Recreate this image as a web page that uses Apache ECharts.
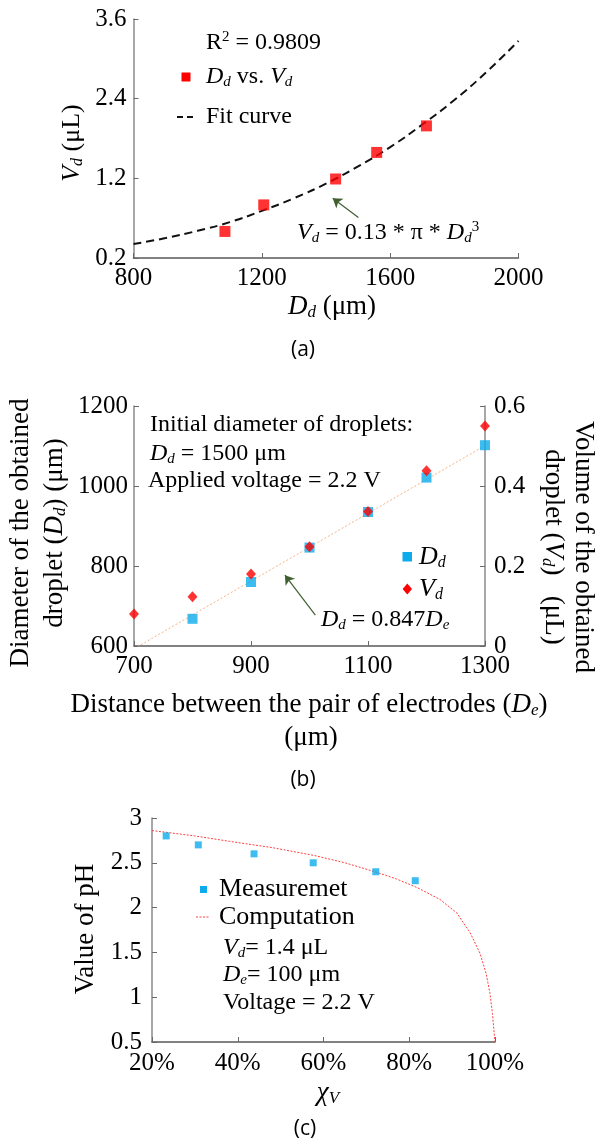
<!DOCTYPE html>
<html>
<head>
<meta charset="utf-8">
<script src="https://cdn.jsdelivr.net/npm/echarts@6/dist/echarts.min.js"></script>
<style>
html,body{margin:0;padding:0;background:#fff;}
#chart{width:598px;height:1141px;}
</style>
</head>
<body>
<div id="chart"></div>
<script>
// ---------- Panel (a) data ----------
const aDd = [1085, 1206, 1430, 1558, 1713];
const aVd = [0.40, 0.80, 1.19, 1.59, 1.99];
const aFitD = [800, 900, 1000, 1100, 1200, 1300, 1400, 1500, 1600, 1700, 1800, 1900, 2000];
const aFitV = [0.21, 0.30, 0.41, 0.54, 0.71, 0.90, 1.12, 1.38, 1.67, 2.01, 2.38, 2.80, 3.27];
const aYTickLabels = ['0.2', '1.2', '2.4', '3.6'];
const aArrow = [[1501, 0.61], [1421, 0.90]];

// ---------- Panel (b) data ----------
const bDeD = [800, 900, 1000, 1100, 1200, 1300];
const bDd = [668, 760, 846, 935, 1021, 1102];
const bDeV = [700, 800, 900, 1000, 1100, 1200, 1300];
const bVd = [0.080, 0.123, 0.180, 0.248, 0.336, 0.438, 0.550];
const bFitDe = [700, 1300];
const bFitDd = [593, 1101];
const bArrow = [[1010, 677], [958, 777]];

// ---------- Panel (c) data ----------
const cChi = [23.3, 30.8, 43.8, 57.6, 72.2, 81.4];
const cPH = [2.8, 2.7, 2.6, 2.5, 2.4, 2.3];
const cCompChi = [20, 30, 38, 48, 58, 65, 72, 77, 82, 87.2, 91.1, 94.2, 96.5, 97.9, 98.8, 99.4, 99.8, 100];
const cCompPH = [2.86, 2.80, 2.74, 2.67, 2.58, 2.50, 2.40, 2.32, 2.22, 2.09, 1.94, 1.72, 1.49, 1.27, 1.05, 0.82, 0.60, 0.50];

const zip = (xs, ys) => xs.map((x, i) => [x, ys[i]]);

const SERIF = 'Liberation Serif';
const FS = 24;
const TS = 27;
const rich = {
  n: {fontFamily: SERIF, fontSize: FS, color: '#000'},
  i: {fontFamily: SERIF, fontSize: FS, fontStyle: 'italic', color: '#000'},
  s: {fontFamily: SERIF, fontSize: 15, fontStyle: 'italic', color: '#000', padding: [11, 0, 0, 0]},
  su: {fontFamily: SERIF, fontSize: 15, color: '#000', padding: [0, 0, 12, 0]},
  N: {fontFamily: SERIF, fontSize: TS, color: '#000'},
  I: {fontFamily: SERIF, fontSize: TS, fontStyle: 'italic', color: '#000'},
  S: {fontFamily: SERIF, fontSize: 17, fontStyle: 'italic', color: '#000', padding: [12, 0, 0, 0]},
  L: {fontFamily: SERIF, fontSize: 26, color: '#000'},
  LI: {fontFamily: SERIF, fontSize: 26, fontStyle: 'italic', color: '#000'},
  LS: {fontFamily: SERIF, fontSize: 16, fontStyle: 'italic', color: '#000', padding: [12, 0, 0, 0]}
};

function txt(text, x, y, align, rot) {
  return {
    type: 'text', x: x, y: y, rotation: rot || 0, silent: true,
    style: {text: text, rich: rich, align: align || 'left', verticalAlign: 'middle',
            fontFamily: SERIF, fontSize: FS, fill: '#000'}
  };
}
function plain(text, x, y) {
  return {type: 'text', x: x, y: y, silent: true,
    style: {text: text, align: 'center', verticalAlign: 'middle', fontFamily: 'Open Sans', fontSize: 21, fill: '#000'}};
}

const axisLineL = {show: true, lineStyle: {color: '#8a8a8a', width: 1.5}};
const axisLineB = {show: true, lineStyle: {color: '#5a5a5a', width: 1.5}};
const tick = {show: true, inside: true, length: 5, lineStyle: {color: '#6a6a6a'}};
const tickRich = {t: {fontFamily: SERIF, fontSize: 25, color: '#000'}};
const lab = (m, fmt) => ({
  margin: m, fontFamily: SERIF, fontSize: 25, color: '#000', rich: tickRich,
  formatter: v => '{t|' + (fmt ? fmt(v) : String(v)) + '}'
});

const BLUE = '#0dabeb';

const option = {
  backgroundColor: '#fff',
  animation: false,
  textStyle: {fontFamily: SERIF},
  grid: [
    {left: 133.5, top: 19, width: 385, height: 239},
    {left: 134, top: 406, width: 351, height: 240},
    {left: 152, top: 818, width: 343, height: 224}
  ],
  xAxis: [
    {gridIndex: 0, type: 'value', min: 800, max: 2000, interval: 400,
     axisLine: axisLineB, axisTick: tick, splitLine: {show: false}, axisLabel: lab(8)},
    {gridIndex: 1, type: 'value', min: 700, max: 1300, interval: 200,
     axisLine: axisLineB, axisTick: tick, splitLine: {show: false}, axisLabel: lab(8)},
    {gridIndex: 2, type: 'value', min: 20, max: 100, interval: 20,
     axisLine: axisLineB, axisTick: tick, splitLine: {show: false},
     axisLabel: lab(9, v => v + '%')}
  ],
  yAxis: [
    {gridIndex: 0, type: 'value', min: 0, max: 3.6, interval: 1.2,
     axisLine: axisLineL, axisTick: tick, splitLine: {show: false},
     axisLabel: lab(7, v => aYTickLabels[Math.round(v / 1.2)])},
    {gridIndex: 1, type: 'value', min: 600, max: 1200, interval: 200,
     axisLine: axisLineL, axisTick: tick, splitLine: {show: false}, axisLabel: lab(6)},
    {gridIndex: 1, type: 'value', position: 'right', min: 0, max: 0.6, interval: 0.2,
     axisLine: axisLineL, axisTick: tick, splitLine: {show: false},
     axisLabel: lab(9, v => String(Math.round(v * 10) / 10))},
    {gridIndex: 2, type: 'value', min: 0.5, max: 3, interval: 0.5,
     axisLine: axisLineL, axisTick: tick, splitLine: {show: false}, axisLabel: lab(10)}
  ],
  series: [
    // (a)
    {type: 'line', xAxisIndex: 0, yAxisIndex: 0, data: zip(aFitD, aFitV), smooth: true,
     showSymbol: false, lineStyle: {color: '#111', width: 2, type: [8, 5]}, z: 2,
     markLine: {silent: true, symbol: ['none', 'arrow'], symbolSize: 9, label: {show: false},
       lineStyle: {color: '#3f5f2f', width: 1.2, type: 'solid'},
       data: [[{coord: aArrow[0]}, {coord: aArrow[1]}]]}},
    {type: 'scatter', xAxisIndex: 0, yAxisIndex: 0, data: zip(aDd, aVd), symbol: 'rect',
     symbolSize: 11, itemStyle: {color: '#ff0000'}, z: 3},
    // (b)
    {type: 'line', xAxisIndex: 1, yAxisIndex: 1, data: zip(bFitDe, bFitDd), showSymbol: false,
     lineStyle: {color: '#f6b185', width: 1, type: [2, 2]}, z: 1},
    {type: 'scatter', xAxisIndex: 1, yAxisIndex: 1, data: zip(bDeD, bDd), symbol: 'rect',
     symbolSize: 10, itemStyle: {color: BLUE}, z: 2,
     markLine: {silent: true, symbol: ['none', 'arrow'], symbolSize: 9, label: {show: false},
       lineStyle: {color: '#3f5f2f', width: 1.2, type: 'solid'},
       data: [[{coord: bArrow[0]}, {coord: bArrow[1]}]]}},
    {type: 'scatter', xAxisIndex: 1, yAxisIndex: 2, data: zip(bDeV, bVd), symbol: 'diamond',
     symbolSize: [10, 11], itemStyle: {color: '#ff0000'}, z: 3},
    // (c)
    {type: 'line', xAxisIndex: 2, yAxisIndex: 3, data: zip(cCompChi, cCompPH), smooth: false,
     showSymbol: false, lineStyle: {color: '#ff4040', width: 1, type: [2, 1.5]}, z: 2},
    {type: 'scatter', xAxisIndex: 2, yAxisIndex: 3, data: zip(cChi, cPH), symbol: 'rect',
     symbolSize: 7, itemStyle: {color: BLUE}, z: 3}
  ],
  graphic: [
    // ----- (a) -----
    txt('{n|R}{su|2}{n| = 0.9809}', 206, 43),
    {type: 'rect', shape: {x: 181.5, y: 72.5, width: 9, height: 9}, style: {fill: '#ff0000'}, silent: true},
    txt('{i|D}{s|d}{n| vs. }{i|V}{s|d}', 206, 77),
    {type: 'line', shape: {x1: 177, y1: 117, x2: 193, y2: 117}, style: {stroke: '#111', lineWidth: 2, lineDash: [6, 4]}, silent: true},
    txt('{n|Fit curve}', 206, 117),
    txt('{i|V}{s|d}{n| = 0.13 * π * }{i|D}{s|d}{su|3}', 297, 233),
    txt('{LI|V}{LS|d}{L| (μL)}', 72, 143, 'center', Math.PI / 2),
    txt('{I|D}{S|d}{N| (μm)}', 332, 307, 'center'),
    plain('(a)', 303, 350),
    // ----- (b) -----
    txt('{n|Initial diameter of droplets:}', 150, 425),
    txt('{i|D}{s|d}{n| = 1500 μm}', 150, 454),
    txt('{n|Applied voltage = 2.2 V}', 148, 481),
    {type: 'rect', shape: {x: 402.5, y: 552, width: 9.5, height: 9.5}, style: {fill: BLUE}, silent: true},
    txt('{LI|D}{LS|d}', 419, 557),
    {type: 'polygon', shape: {points: [[407.3, 583.5], [412, 589], [407.3, 594.5], [402.6, 589]]}, style: {fill: '#ff0000'}, silent: true},
    txt('{LI|V}{LS|d}', 419, 589),
    txt('{i|D}{s|d}{n| = 0.847}{i|D}{s|e}', 321, 620),
    txt('{N|Diameter of the obtained}', 21, 533, 'center', Math.PI / 2),
    txt('{N|droplet (}{I|D}{S|d}{N|) (μm)}', 55, 533, 'center', Math.PI / 2),
    txt('{N|Volume of the obtained}', 583, 547, 'center', -Math.PI / 2),
    txt('{N|droplet (}{I|V}{S|d}{N|)   (μL)}', 553, 547, 'center', -Math.PI / 2),
    txt('{N|Distance between the pair of electrodes (}{I|D}{S|e}{N|)}', 309, 705, 'center'),
    txt('{N|(μm)}', 311, 738, 'center'),
    plain('(b)', 303, 780),
    // ----- (c) -----
    {type: 'rect', shape: {x: 200, y: 886, width: 7, height: 7}, style: {fill: BLUE}, silent: true},
    txt('{L|Measuremet}', 219, 889),
    {type: 'line', shape: {x1: 196, y1: 917, x2: 210, y2: 917}, style: {stroke: '#ff4040', lineWidth: 1, lineDash: [2, 1.5]}, silent: true},
    txt('{L|Computation}', 219, 917),
    txt('{i|V}{s|d}{n|= 1.4 μL}', 223, 948),
    txt('{i|D}{s|e}{n|= 100 μm}', 223, 975),
    txt('{n|Voltage = 2.2 V}', 223, 1003),
    txt('{N|Value of pH}', 86, 929, 'center', Math.PI / 2),
    txt('{I|χ}{S|V}', 328, 1093, 'center'),
    plain('(c)', 305, 1129)
  ]
};

const chart = echarts.init(document.getElementById('chart'), null, {renderer: 'canvas'});
chart.setOption(option);
</script>
</body>
</html>
